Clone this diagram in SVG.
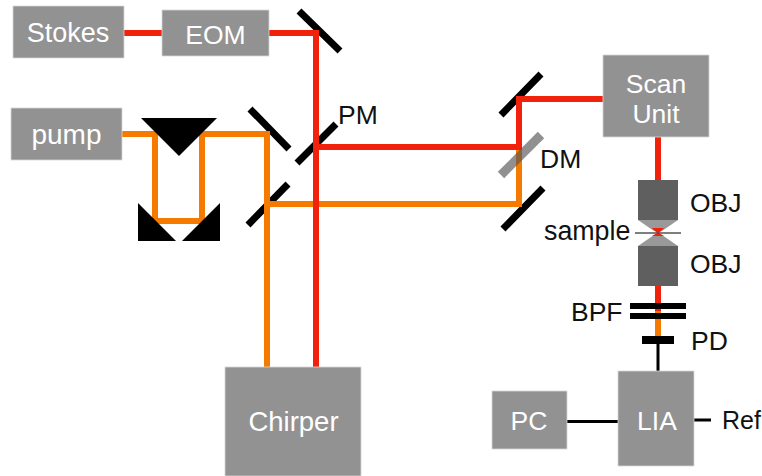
<svg xmlns="http://www.w3.org/2000/svg" width="762" height="476" viewBox="0 0 762 476">
<style>
text{font-family:"Liberation Sans",Arial,sans-serif;font-size:26.500px}
.box{fill:#929292;stroke:#d8d8d8;stroke-width:.8}
.w{fill:#fff;text-anchor:middle}
.k{fill:#111}
.r{stroke:#f1210c;stroke-width:6;fill:none}
.o{stroke:#f67a00;stroke-width:6;fill:none}
.m{stroke:#000;stroke-width:7;fill:none}
.s{stroke:#000;stroke-width:3;fill:none}
</style>
<rect width="762" height="476" fill="#fff"/>
<g id="mirrors">
<path class="m" d="M299 11L340 51M297 163L336 124M250 109L289 149M248 225L288 184M501 115L541 74M503 229L543 188"/>
</g>
<g id="connectors">
<path class="o" d="M122 134H155V221H202V134H267V367"/>
<path class="o" d="M267 204H519V150"/>
<path class="r" d="M124 33H162M269 33H316V367"/>
<path class="r" d="M316 147H519M603 99H519V150"/>
<path class="r" d="M658 137V180M658 286V311"/>
<path class="o" d="M658 311V338"/>
<path class="s" d="M658 344V371M567 421.500H618M694 420H711"/>
</g>
<g id="dichroic-mirror">
<path d="M501 175L541 135" stroke="#555" stroke-opacity=".65" stroke-width="9" fill="none"/>
</g>
<g id="prisms">
<path d="M141 118H217L179 156Z"/>
<path d="M138 203V241H176Z"/>
<path d="M220 203V241H182Z"/>
</g>
<g id="stokes"><rect class="box" x="13" y="6" width="111" height="52"/><text class="w" x="68" y="42" style="font-size:27px">Stokes</text></g>
<g id="eom"><rect class="box" x="162" y="10" width="107" height="46"/><text class="w" x="215.500" y="44">EOM</text></g>
<g id="pump"><rect class="box" x="11" y="108" width="111" height="52"/><text class="w" x="66.500" y="144" style="font-size:28px">pump</text></g>
<g id="scan-unit"><rect class="box" x="603" y="55" width="106" height="82"/><text class="w" x="656" y="93">Scan</text><text class="w" x="656" y="123">Unit</text></g>
<g id="chirper"><rect class="box" x="225" y="367" width="136" height="109"/><text class="w" x="293.500" y="431" style="font-size:27.500px">Chirper</text></g>
<g id="pc"><rect class="box" x="492" y="391" width="75" height="58"/><text class="w" x="529" y="430">PC</text></g>
<g id="lia"><rect class="box" x="618" y="371" width="76" height="95"/><text class="w" x="657" y="430">LIA</text></g>
<g id="objectives">
<path d="M638 220H678L662 231H654Z" fill="#999"/>
<path d="M654 235H662L678 246H638Z" fill="#999"/>
<path d="M652 228H664L659 233L664 236H652L657 233Z" fill="#f1210c"/>
<rect x="638" y="180" width="40" height="40" fill="#5f5f5f"/>
<rect x="638" y="246" width="40" height="40" fill="#5f5f5f"/>
<path d="M635 233H681" stroke="#555" stroke-width="1.500"/>
</g>
<g id="filters"><path d="M630 306H686M630 316H686" stroke="#000" stroke-width="6"/><path d="M642 340H674" stroke="#000" stroke-width="8"/></g>
<g id="labels">
<text class="k" x="338" y="124">PM</text>
<text class="k" x="540" y="168">DM</text>
<text class="k" x="690" y="212">OBJ</text>
<text class="k" x="544" y="240" style="font-size:26.800px">sample</text>
<text class="k" x="690" y="273">OBJ</text>
<text class="k" x="571" y="321">BPF</text>
<text class="k" x="691" y="350">PD</text>
<text class="k" x="722" y="429" style="font-size:25px">Ref</text>
</g>
</svg>
